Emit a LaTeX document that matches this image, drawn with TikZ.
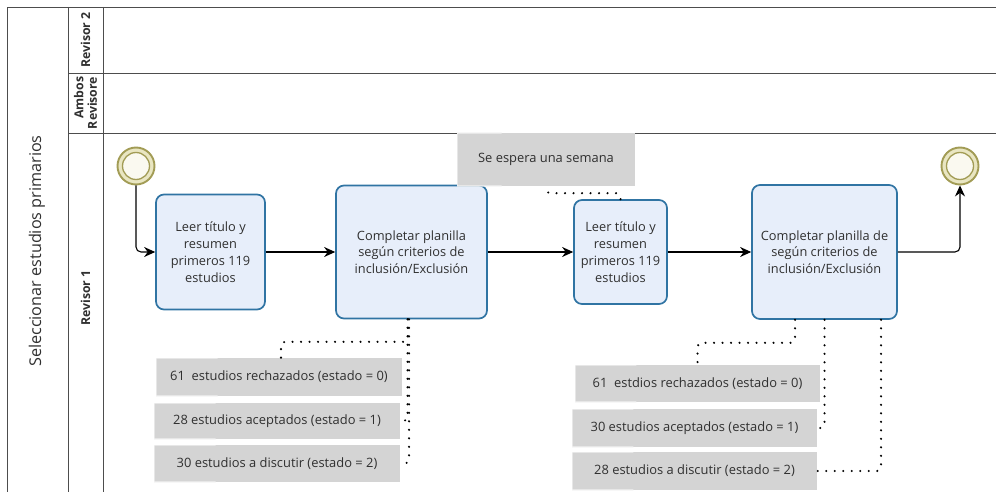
\documentclass[tikz,border=0pt]{standalone}
\usepackage{fontspec}
\setmainfont{Open Sans}
\usetikzlibrary{arrows.meta,calc}
\definecolor{taskline}{HTML}{3074A3}
\definecolor{taskfill}{HTML}{E7EEFA}
\definecolor{notefill}{HTML}{D4D4D4}
\definecolor{evline}{HTML}{A29C55}
\definecolor{evfill}{HTML}{E9E6C2}
\definecolor{poolline}{HTML}{4D4D4D}
\definecolor{ink}{HTML}{303030}
\begin{document}
\begin{tikzpicture}[x=1pt,y=-1pt,
  lane/.style={draw=poolline,line width=0.9pt},
  lanelabel/.style={rotate=90,text=ink,align=right,font=\bfseries\fontsize{12.3}{13.5}\selectfont},
  task/.style={draw=taskline,fill=taskfill,line width=1.7pt,rounded corners=8pt,
    align=center,text=ink,font=\fontsize{12.8}{16.8}\selectfont,inner sep=0pt},
  note/.style={fill=notefill,text=ink,font=\fontsize{12.9}{15}\selectfont,inner sep=0pt,
    path picture={\draw[white!70!notefill,line width=1.2pt]
      ($(path picture bounding box.north west)!0.25!(path picture bounding box.north east)$)
      -- (path picture bounding box.north west) -- (path picture bounding box.south west)
      -- ($(path picture bounding box.south west)!0.25!(path picture bounding box.south east)$);}},
  event/.style={circle,draw=evline,fill=evfill,line width=1.9pt,minimum size=37pt,inner sep=0pt,
    path picture={\draw[evline,line width=1.3pt,fill=white!75!evfill]
      (path picture bounding box.center) circle (13.5pt);}},
  flow/.style={draw=black,line width=1.1pt,rounded corners=5pt,-{Stealth[length=11pt,width=10pt]}},
  assoc/.style={draw=black,line width=2.3pt,line cap=round,dash pattern=on 0pt off 8.5pt,rounded corners=4pt}
]
\useasboundingbox (0,0) rectangle (996,492);

% pool and lanes
\draw[lane] (996,7) -- (7,7) -- (7,492);
\draw[lane] (68,7) -- (68,492);
\draw[lane] (103,7) -- (103,492);
\draw[lane] (68,73) -- (996,73);
\draw[lane] (68,133) -- (996,133);

\node[rotate=90,text=ink,font=\fontsize{16.2}{19}\selectfont] (pool) at (37,251) {Seleccionar estudios primarios};
\node[lanelabel] (lane2) at (85.5,40) {Revisor 2};
\node[lanelabel] (lane3) at (85.5,103) {Ambos\\Revisore};
\node[lanelabel] (lane1) at (85.5,298) {Revisor 1};

% events and tasks
\node[event] (start) at (136,166) {};
\node[event] (end) at (960,166) {};
\node[task,minimum width=109pt,minimum height=115pt] (t1) at (210.5,252) {Leer título y\\resumen\\primeros 119\\estudios};
\node[task,minimum width=151pt,minimum height=133pt] (t2) at (411.5,252) {Completar planilla\\según criterios de\\inclusión/Exclusión};
\node[task,minimum width=93pt,minimum height=104pt] (t3) at (620.5,252) {Leer título y\\resumen\\primeros 119\\estudios};
\node[task,minimum width=145pt,minimum height=134pt] (t4) at (824.5,252) {Completar planilla de\\según criterios de\\inclusión/Exclusión};

% annotations
\node[note,minimum width=178pt,minimum height=53pt] (wait) at (546,159.5) {Se espera una semana};
\node[note,minimum width=246pt,minimum height=38pt] (a1) at (279,377) {61~ estudios rechazados (estado = 0)};
\node[note,minimum width=246pt,minimum height=36pt] (a2) at (277,421) {28 estudios aceptados (estado = 1)};
\node[note,minimum width=246pt,minimum height=37pt] (a3) at (277,463.5) {30 estudios a discutir (estado = 2)};
\node[note,minimum width=245pt,minimum height=37pt] (b1) at (697.5,383.5) {61~ estdios rechazados (estado = 0)};
\node[note,minimum width=245pt,minimum height=38pt] (b2) at (694.5,428) {30 estudios aceptados (estado = 1)};
\node[note,minimum width=245pt,minimum height=38pt] (b3) at (694.5,471) {28 estudios a discutir (estado = 2)};

% sequence flow
\draw[flow] (start.south) |- (t1.west);
\draw[flow] (t1.east) -- (t2.west);
\draw[flow] (t2.east) -- (t3.west);
\draw[flow] (t3.east) -- (t4.west);
\draw[flow] (t4.east) -| (end.south);

% associations
\draw[assoc] (t3.north) |- ([yshift=-7pt]wait.south) -- (wait.south);
\draw[assoc] ([xshift=-3.5pt]t2.south) |- ([xshift=2pt,yshift=16pt]a1.north) -- ([xshift=2pt]a1.north);
\draw[assoc] ([xshift=-4pt]t2.south) |- (a2.east);
\draw[assoc] ([xshift=-2.5pt]t2.south) |- (a3.east);
\draw[assoc] ([xshift=-29.5pt]t4.south) |- ([yshift=22pt]b1.north) -- (b1.north);
\draw[assoc] (t4.south) |- (b2.east);
\draw[assoc] ([xshift=56.5pt]t4.south) |- (b3.east);
\end{tikzpicture}
\end{document}
